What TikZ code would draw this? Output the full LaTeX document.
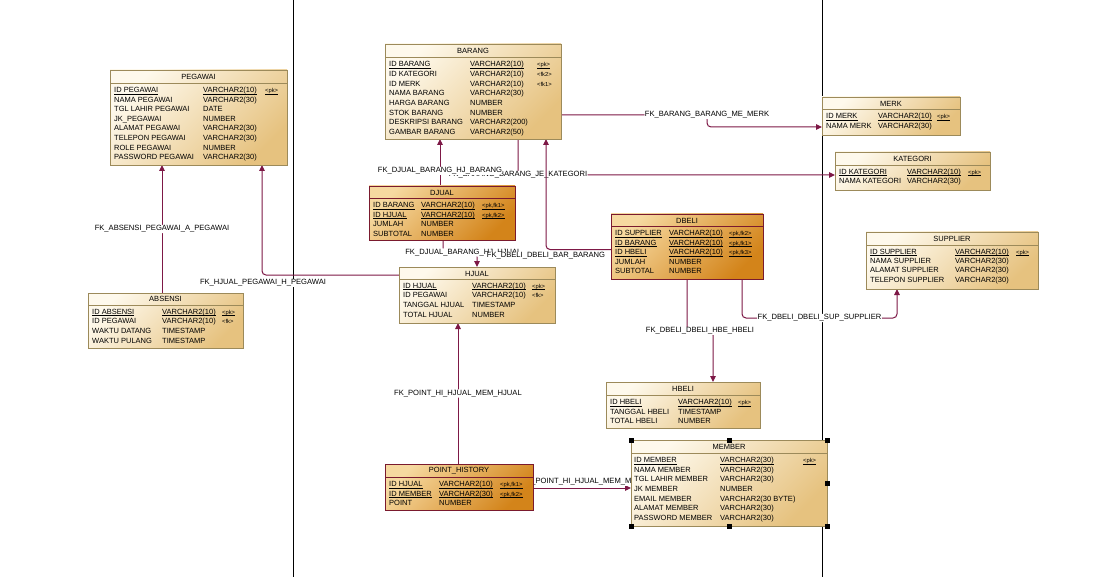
\documentclass[tikz,border=0pt]{standalone}
\usepackage{fontspec}
\setmainfont{Liberation Sans}
\usetikzlibrary{arrows.meta,calc}
\definecolor{fkc}{HTML}{7D1846}
\definecolor{lbord}{HTML}{9C8A5A}
\definecolor{dbord}{HTML}{7A1A2E}
\definecolor{ltA}{HTML}{FEF9EC}
\definecolor{ltB}{HTML}{E6C27F}
\definecolor{dkA}{HTML}{F6D9A0}
\definecolor{dkB}{HTML}{D3841A}
\pgfdeclarelayer{bg}
\pgfsetlayers{bg,main}
\newcommand\tbox[7]{%
  \pgfmathsetmacro\tbW{#5-#3}\pgfmathsetmacro\tbH{#6-#4}%
  \pgfmathsetmacro\tbX{(#3+#5)/2}\pgfmathsetmacro\tbY{(#4+#6)/2}%
  \node[#2, minimum width=\tbW pt, minimum height=\tbH pt] (#1) at (\tbX,\tbY) {};
  \draw[#2sep] (#3,#7) -- (#5,#7);}
\newcommand\tcell[4]{\node[#3] at (#1,#2+2.7) {#4};}
\newcommand\ucell[4]{\node[#3] (uc) at (#1,#2+2.7) {#4};
  \draw[ulline] ([yshift=-1.3pt]uc.base west) -- ([yshift=-1.3pt]uc.base east);}
\newcommand\trow[7]{\tcell{#1}{#4}{cell}{#5}\tcell{#2}{#4}{cell}{#6}\tcell{#3}{#4}{keyc}{#7}}
\newcommand\urow[7]{\ucell{#1}{#4}{cell}{#5}\ucell{#2}{#4}{cell}{#6}\ucell{#3}{#4}{keyc}{#7}}
\newcommand\ttitle[3]{\node[ttl] at (#1,#2) {#3};}
\begin{document}
\begin{tikzpicture}[x=1pt,y=-1pt,
  ltbl/.style={draw=lbord, line width=0.8pt, top color=ltA, bottom color=ltB, shading angle=45, inner sep=0pt, outer sep=0pt},
  dtbl/.style={draw=dbord, line width=0.9pt, top color=dkA, bottom color=dkB, shading angle=45, inner sep=0pt, outer sep=0pt},
  ltblsep/.style={draw=lbord, line width=0.7pt},
  dtblsep/.style={draw=dbord, line width=0.8pt},
  cell/.style={anchor=base west, inner sep=0pt, font=\fontsize{7.5}{9}\selectfont},
  keyc/.style={anchor=base west, inner sep=0pt, font=\fontsize{5.8}{7}\selectfont},
  ttl/.style={inner sep=0pt, font=\fontsize{7.5}{9}\selectfont},
  ulline/.style={draw=black, line width=0.6pt},
  lbl/.style={fill=white, inner sep=0.6pt, font=\fontsize{7.6}{9}\selectfont, text=black},
  fk/.style={draw=fkc, line width=1pt, rounded corners=4pt, -{Triangle[length=6pt,width=5.5pt]}},
  vline/.style={draw=black, line width=0.8pt}]
\useasboundingbox (0,0) rectangle (1107,577);

% ---------- tables ----------
\tbox{pegawai}{ltbl}{110}{70}{287}{165}{83}
\ttitle{198.5}{77}{PEGAWAI}
\urow{114}{203}{265}{90}{ID PEGAWAI}{VARCHAR2(10)}{<pk>}
\trow{114}{203}{265}{99.5}{NAMA PEGAWAI}{VARCHAR2(30)}{}
\trow{114}{203}{265}{109}{TGL LAHIR PEGAWAI}{DATE}{}
\trow{114}{203}{265}{118.5}{JK\_PEGAWAI}{NUMBER}{}
\trow{114}{203}{265}{128}{ALAMAT PEGAWAI}{VARCHAR2(30)}{}
\trow{114}{203}{265}{138}{TELEPON PEGAWAI}{VARCHAR2(30)}{}
\trow{114}{203}{265}{147.5}{ROLE PEGAWAI}{NUMBER}{}
\trow{114}{203}{265}{157}{PASSWORD PEGAWAI}{VARCHAR2(30)}{}

\tbox{barang}{ltbl}{385}{44}{561}{139}{57}
\ttitle{473}{51}{BARANG}
\urow{389}{470}{537}{64}{ID BARANG}{VARCHAR2(10)}{<pk>}
\trow{389}{470}{537}{74}{ID KATEGORI}{VARCHAR2(10)}{<fk2>}
\trow{389}{470}{537}{83.5}{ID MERK}{VARCHAR2(10)}{<fk1>}
\trow{389}{470}{537}{93}{NAMA BARANG}{VARCHAR2(30)}{}
\trow{389}{470}{537}{103}{HARGA BARANG}{NUMBER}{}
\trow{389}{470}{537}{112.5}{STOK BARANG}{NUMBER}{}
\trow{389}{470}{537}{122}{DESKRIPSI BARANG}{VARCHAR2(200)}{}
\trow{389}{470}{537}{131.5}{GAMBAR BARANG}{VARCHAR2(50)}{}

\tbox{merk}{ltbl}{822}{97}{960}{135}{109}
\ttitle{891}{103.5}{MERK}
\urow{826}{878}{937}{116}{ID MERK}{VARCHAR2(10)}{<pk>}
\trow{826}{878}{937}{126}{NAMA MERK}{VARCHAR2(30)}{}

\tbox{kategori}{ltbl}{835}{152}{990}{190}{165}
\ttitle{912.5}{159}{KATEGORI}
\urow{839}{907}{968}{171.5}{ID KATEGORI}{VARCHAR2(10)}{<pk>}
\trow{839}{907}{968}{181}{NAMA KATEGORI}{VARCHAR2(30)}{}

\tbox{djual}{dtbl}{369}{186}{515}{240}{198}
\ttitle{442}{192.5}{DJUAL}
\urow{373}{421}{482}{205}{ID BARANG}{VARCHAR2(10)}{<pk,fk1>}
\urow{373}{421}{482}{214.5}{ID HJUAL}{VARCHAR2(10)}{<pk,fk2>}
\trow{373}{421}{482}{224}{JUMLAH}{NUMBER}{}
\trow{373}{421}{482}{233.5}{SUBTOTAL}{NUMBER}{}

\tbox{dbeli}{dtbl}{611}{214}{763}{279}{226}
\ttitle{687}{220.5}{DBELI}
\urow{615}{669}{729}{233}{ID SUPPLIER}{VARCHAR2(10)}{<pk,fk2>}
\urow{615}{669}{729}{242.5}{ID BARANG}{VARCHAR2(10)}{<pk,fk1>}
\urow{615}{669}{729}{252}{ID HBELI}{VARCHAR2(10)}{<pk,fk3>}
\trow{615}{669}{729}{262}{JUMLAH}{NUMBER}{}
\trow{615}{669}{729}{271}{SUBTOTAL}{NUMBER}{}

\tbox{supplier}{ltbl}{866}{232}{1038}{289}{245}
\ttitle{952}{239}{SUPPLIER}
\urow{870}{955}{1016}{251.5}{ID SUPPLIER}{VARCHAR2(10)}{<pk>}
\trow{870}{955}{1016}{260.5}{NAMA SUPPLIER}{VARCHAR2(30)}{}
\trow{870}{955}{1016}{270}{ALAMAT SUPPLIER}{VARCHAR2(30)}{}
\trow{870}{955}{1016}{280}{TELEPON SUPPLIER}{VARCHAR2(30)}{}

\tbox{hjual}{ltbl}{399}{267}{555}{323}{279}
\ttitle{477}{273.5}{HJUAL}
\urow{403}{472}{532}{285.5}{ID HJUAL}{VARCHAR2(10)}{<pk>}
\trow{403}{472}{532}{295}{ID PEGAWAI}{VARCHAR2(10)}{<fk>}
\trow{403}{472}{532}{305}{TANGGAL HJUAL}{TIMESTAMP}{}
\trow{403}{472}{532}{315}{TOTAL HJUAL}{NUMBER}{}

\tbox{absensi}{ltbl}{88}{293}{243}{348}{305}
\ttitle{165.5}{299}{ABSENSI}
\urow{92}{162}{222}{311.5}{ID ABSENSI}{VARCHAR2(10)}{<pk>}
\trow{92}{162}{222}{321}{ID PEGAWAI}{VARCHAR2(10)}{<fk>}
\trow{92}{162}{222}{331}{WAKTU DATANG}{TIMESTAMP}{}
\trow{92}{162}{222}{341}{WAKTU PULANG}{TIMESTAMP}{}

\tbox{hbeli}{ltbl}{606}{382}{760}{428}{395}
\ttitle{683}{389}{HBELI}
\urow{610}{678}{738}{402}{ID HBELI}{VARCHAR2(10)}{<pk>}
\trow{610}{678}{738}{411.5}{TANGGAL HBELI}{TIMESTAMP}{}
\trow{610}{678}{738}{421}{TOTAL HBELI}{NUMBER}{}

\tbox{pointh}{dtbl}{385}{464}{533}{510}{477}
\ttitle{459}{470.5}{POINT\_HISTORY}
\urow{389}{439}{500}{484}{ID HJUAL}{VARCHAR2(10)}{<pk,fk1>}
\urow{389}{439}{500}{493.5}{ID MEMBER}{VARCHAR2(30)}{<pk,fk2>}
\trow{389}{439}{500}{503}{POINT}{NUMBER}{}

\tbox{member}{ltbl}{631}{440}{827}{526}{453}
\ttitle{729}{447}{MEMBER}
\urow{634}{720}{803}{460}{ID MEMBER}{VARCHAR2(30)}{<pk>}
\trow{634}{720}{803}{469.5}{NAMA MEMBER}{VARCHAR2(30)}{}
\trow{634}{720}{803}{479}{TGL LAHIR MEMBER}{VARCHAR2(30)}{}
\trow{634}{720}{803}{489}{JK MEMBER}{NUMBER}{}
\trow{634}{720}{803}{498.5}{EMAIL MEMBER}{VARCHAR2(30 BYTE)}{}
\trow{634}{720}{803}{508}{ALAMAT MEMBER}{VARCHAR2(30)}{}
\trow{634}{720}{803}{518}{PASSWORD MEMBER}{VARCHAR2(30)}{}

% selection handles of MEMBER
\foreach \hx/\hy in {631/440, 729/440, 827/440, 827/483, 631/526, 729/526, 827/526}
  \fill[black] (\hx-2.5,\hy-2.5) rectangle (\hx+2.5,\hy+2.5);

% ---------- background: page, guide lines, connectors ----------
\begin{pgfonlayer}{bg}
\fill[white] (0,0) rectangle (1107,577);
\draw[vline] (293,0) -- (293,577);
\draw[vline] (822,0) -- (822,577);

% ABSENSI -> PEGAWAI
\draw[fk] ($(absensi.north)+(-3.5,0)$) -- node[lbl]{FK\_ABSENSI\_PEGAWAI\_A\_PEGAWAI} ($(absensi.north |- pegawai.south)+(-3.5,0)$);
% HJUAL -> PEGAWAI
\draw[fk] ($(hjual.west)+(0,-20)$) -| ($(pegawai.south)+(63.5,0)$);
\node[lbl] (lhp) at (263,283) {FK\_HJUAL\_PEGAWAI\_H\_PEGAWAI};
% BARANG -> KATEGORI
\draw[fk] ($(barang.south)+(45,0)$) |- node[lbl,pos=0.5]{FK\_BARANG\_BARANG\_JE\_KATEGORI} ($(kategori.west)+(0,4)$);
% DJUAL -> BARANG
\draw[fk] ($(djual.north)+(-2,0)$) -- node[lbl,pos=0.32]{FK\_DJUAL\_BARANG\_HJ\_BARANG} ($(djual.north |- barang.south)+(-2,0)$);
% BARANG -> MERK
\draw[fk] ($(barang.east)+(0,23.5)$) -- (707,115) node[lbl]{FK\_BARANG\_BARANG\_ME\_MERK} |- ($(merk.west)+(0,11)$);
% DJUAL -> HJUAL
\draw[fk] ($(djual.south)+(1,0)$) -- (443,252.5) -| node[lbl,pos=0.3]{FK\_DJUAL\_BARANG\_HJ\_HJUAL} (hjual.north);
% DBELI -> BARANG
\draw[fk] ($(dbeli.west)+(0,3)$) -| node[lbl,pos=0.5,yshift=-6.5pt]{FK\_DBELI\_DBELI\_BAR\_BARANG} ($(barang.south)+(73,0)$);
% DBELI -> HBELI
\draw[fk] (dbeli.south) -- (687,331) -| node[lbl,pos=0.25]{FK\_DBELI\_DBELI\_HBE\_HBELI} ($(hbeli.north)+(30,0)$);
% DBELI -> SUPPLIER
\draw[fk] ($(dbeli.south)+(55,0)$) |- node[lbl,pos=0.75]{FK\_DBELI\_DBELI\_SUP\_SUPPLIER} (897,318) -- ($(supplier.south)+(-55,0)$);
% POINT_HISTORY -> HJUAL
\draw[fk] ($(pointh.north)+(-1,0)$) -- node[lbl]{FK\_POINT\_HI\_HJUAL\_MEM\_HJUAL} ($(pointh.north |- hjual.south)+(-1,0)$);
% POINT_HISTORY -> MEMBER
\draw[fk] ($(pointh.east)+(0,1)$) -- ($(pointh.east -| member.west)+(0,1)$);
\node[lbl] (lpm) at (590,482) {FK\_POINT\_HI\_HJUAL\_MEM\_MEMBER};
\end{pgfonlayer}
\end{tikzpicture}
\end{document}
